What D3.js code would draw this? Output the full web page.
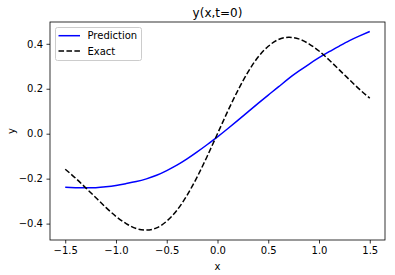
<!DOCTYPE html>
<html>
<head>
<meta charset="utf-8">
<script src="https://cdn.jsdelivr.net/npm/d3@7"></script>
<style>
  body { margin: 0; background: #fff; }
  svg { display: block; font-family: "DejaVu Sans", sans-serif; }
</style>
</head>
<body>
<svg id="chart" width="395" height="275"></svg>
<script>
// sample points along x
const xs = [-1.5, -1.4, -1.3, -1.2, -1.1, -1.0, -0.9, -0.8, -0.7, -0.6, -0.5, -0.4, -0.3, -0.2, -0.1,
	0.0, 0.1, 0.2, 0.3, 0.4, 0.5, 0.6, 0.7, 0.8, 0.9, 1.0, 1.1, 1.2, 1.3, 1.4, 1.5];

// network prediction (blue)
const prediction = [-0.238, -0.240, -0.241, -0.240, -0.236, -0.230, -0.222, -0.213, -0.201, -0.185, -0.164,
	-0.140, -0.112, -0.081, -0.048, -0.014, 0.022, 0.059, 0.097, 0.135, 0.172, 0.208, 0.245, 0.278,
	0.309, 0.338, 0.365, 0.390, 0.414, 0.435, 0.455];

// exact solution (black dashed)
const exact = [-0.158, -0.197, -0.240, -0.284, -0.328, -0.368, -0.400, -0.422, -0.429, -0.419, -0.389,
	-0.341, -0.274, -0.192, -0.099, 0.000, 0.099, 0.192, 0.274, 0.341, 0.389, 0.419, 0.429, 0.422,
	0.400, 0.368, 0.328, 0.284, 0.240, 0.197, 0.158];

const xTicks = [-1.5, -1.0, -0.5, 0.0, 0.5, 1.0, 1.5];
const yTicks = [-0.4, -0.2, 0.0, 0.2, 0.4];

const series = [
	{ name: 'Prediction', values: prediction, color: '#0000ff', dash: null },
	{ name: 'Exact', values: exact, color: '#000000', dash: '5.55,2.4' }
];

const box = { left: 50, right: 385, top: 22, bottom: 240 };
const svg = d3.select('#chart');

const x = d3.scaleLinear().domain([-1.65, 1.65]).range([box.left, box.right]);
const y = d3.scaleLinear().domain([-0.473, 0.497]).range([box.bottom, box.top]);

const fmt = d => d3.format('.1f')(d).replace('-', '\u2212');

// x axis
const xAxis = svg.append('g')
	.attr('transform', `translate(0,${box.bottom})`)
	.call(d3.axisBottom(x).tickValues(xTicks).tickSize(3.5).tickPadding(3.5).tickFormat(fmt));

// y axis
const yAxis = svg.append('g')
	.attr('transform', `translate(${box.left},0)`)
	.call(d3.axisLeft(y).tickValues(yTicks).tickSize(3.5).tickPadding(3.5).tickFormat(fmt));

[xAxis, yAxis].forEach(g => {
	g.select('.domain').remove();
	g.selectAll('line').attr('stroke', '#000').attr('stroke-width', 0.8);
	g.selectAll('text').attr('font-size', 10).attr('fill', '#000')
		.attr('font-family', '"DejaVu Sans", sans-serif');
});

// lines
const line = d3.line().x((d, i) => x(xs[i])).y(d => y(d)).curve(d3.curveNatural);

svg.selectAll('path.series')
	.data(series)
	.enter()
	.append('path')
	.attr('class', 'series')
	.attr('fill', 'none')
	.attr('stroke', d => d.color)
	.attr('stroke-width', 1.5)
	.attr('stroke-dasharray', d => d.dash)
	.attr('d', d => line(d.values));

// frame
svg.append('rect')
	.attr('x', box.left).attr('y', box.top)
	.attr('width', box.right - box.left).attr('height', box.bottom - box.top)
	.attr('fill', 'none').attr('stroke', '#000').attr('stroke-width', 0.8);

// title and axis labels
svg.append('text')
	.attr('x', (box.left + box.right) / 2).attr('y', 17)
	.attr('text-anchor', 'middle').attr('font-size', 12)
	.text('y(x,t=0)');

svg.append('text')
	.attr('x', (box.left + box.right) / 2).attr('y', 270)
	.attr('text-anchor', 'middle').attr('font-size', 10)
	.text('x');

svg.append('text')
	.attr('transform', `translate(15,${(box.top + box.bottom) / 2}) rotate(-90)`)
	.attr('text-anchor', 'middle').attr('font-size', 10)
	.text('y');

// legend
const legend = svg.append('g').attr('transform', 'translate(55.5,27.5)');
legend.append('rect')
	.attr('width', 86).attr('height', 33).attr('rx', 2)
	.attr('fill', '#fff').attr('fill-opacity', 0.8)
	.attr('stroke', '#ccc').attr('stroke-width', 1);

const items = legend.selectAll('g.item')
	.data(series)
	.enter()
	.append('g')
	.attr('class', 'item')
	.attr('transform', (d, i) => `translate(0,${8.2 + i * 15.3})`);

items.append('line')
	.attr('x1', 3).attr('x2', 24.5)
	.attr('stroke', d => d.color)
	.attr('stroke-width', 1.5)
	.attr('stroke-dasharray', d => d.dash);

items.append('text')
	.attr('x', 32).attr('y', 3.6)
	.attr('font-size', 10)
	.text(d => d.name);
</script>
</body>
</html>
